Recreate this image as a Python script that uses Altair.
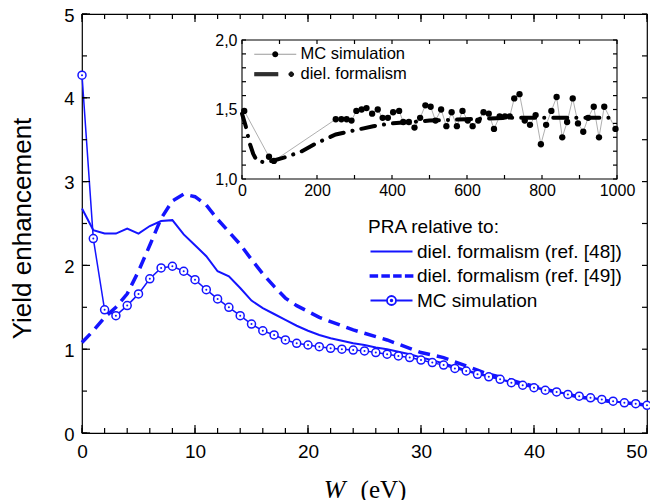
import altair as alt
import pandas as pd

# ---------------- data ----------------
W_EV = list(range(51))
REF48 = [2.68, 2.42, 2.38, 2.38, 2.44, 2.38, 2.47, 2.53, 2.54, 2.37,
         2.24, 2.11, 1.93, 1.87, 1.73, 1.58, 1.49, 1.42, 1.35, 1.28,
         1.22, 1.17, 1.13, 1.10, 1.07, 1.05, 1.02, 1.00, 0.97, 0.94,
         0.90, 0.87, 0.83, 0.79, 0.75, 0.71, 0.68, 0.64, 0.61, 0.58,
         0.55, 0.52, 0.49, 0.47, 0.44, 0.42, 0.40, 0.38, 0.36, 0.35, 0.33]
REF49 = [1.08, 1.22, 1.38, 1.50, 1.66, 1.93, 2.24, 2.56, 2.77, 2.85,
         2.82, 2.72, 2.55, 2.40, 2.25, 2.07, 1.90, 1.75, 1.61, 1.52,
         1.45, 1.38, 1.33, 1.28, 1.23, 1.19, 1.15, 1.11, 1.06, 1.01,
         0.96, 0.93, 0.90, 0.85, 0.80, 0.75, 0.70, 0.67, 0.63, 0.59,
         0.56, 0.52, 0.49, 0.46, 0.43, 0.41, 0.39, 0.37, 0.36, 0.35, 0.33]
MC_MAIN = [4.27, 2.32, 1.47, 1.40, 1.52, 1.66, 1.84, 1.97, 1.99, 1.93,
           1.83, 1.71, 1.60, 1.50, 1.40, 1.30, 1.22, 1.17, 1.11, 1.07,
           1.05, 1.03, 1.01, 1.00, 0.99, 0.98, 0.96, 0.94, 0.92, 0.90,
           0.87, 0.84, 0.81, 0.77, 0.74, 0.70, 0.67, 0.64, 0.60, 0.57,
           0.54, 0.51, 0.49, 0.46, 0.44, 0.42, 0.40, 0.38, 0.36, 0.35, 0.33]
MAIN_SERIES = ["diel. formalism (ref. [48])", "diel. formalism (ref. [49])", "MC simulation"]

INSET_MC_E = [6, 72, 85, 250, 265, 279, 292, 305, 319, 332, 347, 362, 375, 389, 403, 419,
              430, 445, 460, 475, 489, 503, 516, 531, 545, 559, 573, 588, 602, 615, 630,
              644, 658, 672, 687, 701, 714, 726, 740, 754, 768, 783, 797, 811, 825, 839,
              854, 867, 882, 896, 910, 923, 938, 952, 966, 996]
INSET_MC_Y = [1.49, 1.16, 1.13, 1.43, 1.43, 1.43, 1.42, 1.49, 1.50, 1.51, 1.47, 1.50, 1.44,
              1.44, 1.48, 1.49, 1.41, 1.41, 1.37, 1.44, 1.53, 1.52, 1.42, 1.50, 1.38, 1.48,
              1.38, 1.49, 1.42, 1.38, 1.42, 1.48, 1.47, 1.36, 1.45, 1.45, 1.45, 1.58, 1.61,
              1.42, 1.39, 1.46, 1.25, 1.39, 1.49, 1.59, 1.30, 1.41, 1.58, 1.40, 1.34, 1.44,
              1.52, 1.30, 1.52, 1.36]
INSET_DIEL_E = [0, 10, 20, 30, 40, 60, 80, 120, 160, 200, 250, 300, 350, 400, 450, 500,
                600, 700, 800, 900, 1000]
INSET_DIEL_Y = [1.47, 1.38, 1.26, 1.18, 1.13, 1.12, 1.13, 1.16, 1.20, 1.26, 1.32, 1.35,
                1.38, 1.40, 1.41, 1.42, 1.43, 1.44, 1.44, 1.44, 1.44]
INSET_SERIES = ["MC simulation", "diel. formalism"]
INSET_X_DOMAIN = [0, 1000]
INSET_Y_DOMAIN = [1.0, 2.0]

MAIN_X_DOMAIN = [0, 50]
MAIN_Y_DOMAIN = [0, 5]
MAIN_X_MAJOR = list(range(0, 51, 10))
MAIN_X_MINOR = list(range(0, 51, 2))
MAIN_Y_MAJOR = [0, 1, 2, 3, 4, 5]
MAIN_Y_MINOR = [i * 0.5 for i in range(11)]
INSET_X_TICKS = list(range(0, 1001, 100))
INSET_Y_TICKS = [round(1 + 0.1 * i, 1) for i in range(11)]

# ---------------- style ----------------
BLUE = "#1414ff"
FONT = "Liberation Sans"
SERIF = "Liberation Serif"
PLOT_W, PLOT_H = 565, 419
INSET_X_RANGE = [160, 535]
INSET_Y_RANGE = [165, 26]

# legend symbols: unit = 7 px (symbol size 196), drawn from -1 to 5 units (42 px)
MAIN_PATHS = [
    "M-1,0H5",
    "M-1,-0.107H-0.04V0.107H-1ZM0.68,-0.107H1.64V0.107H0.68ZM2.36,-0.107H3.32V0.107H2.36Z"
    "M4.04,-0.107H5V0.107H4.04Z",
    "M-1,0H1.357M2.643,0H5M2.643,0A0.643,0.643,0,1,1,1.357,0A0.643,0.643,0,1,1,2.643,0"
    "M2.12,0A0.12,0.12,0,1,1,1.88,0A0.12,0.12,0,1,1,2.12,0",
]


def ring(cx, r):
    return (f"M{cx + r:.3f},0A{r},{r},0,1,1,{cx - r:.3f},0"
            f"A{r},{r},0,1,1,{cx + r:.3f},0")


INSET_PATHS = [
    "M-1,0H5",
    "M-1,-0.214H2.43M-1,-0.071H2.43M-1,0.071H2.43M-1,0.214H2.43"
    + "".join(ring(4.29, r) for r in (0.05, 0.12, 0.19, 0.26, 0.33)),
]
INSET_DOT_PATH = "".join(ring(2.0, r) for r in (0.1, 0.22, 0.34, 0.43))
SYM = 196


def axis(**kw):
    base = dict(grid=False, domain=False, ticks=False, tickSize=0,
                labelColor="black", labelFont=FONT, labelFontSize=19,
                labelFlush=False, labelOverlap=False, title=None)
    base.update(kw)
    return alt.Axis(**base)


main_df = pd.DataFrame({"W": W_EV, "r48": REF48, "r49": REF49, "mc": MC_MAIN})
xs = alt.Scale(domain=MAIN_X_DOMAIN, nice=False, zero=False)
ys = alt.Scale(domain=MAIN_Y_DOMAIN, nice=False, zero=False)

ax_x_bot = axis(orient="bottom", values=MAIN_X_MAJOR, labelPadding=9,
                labelAlign={"condition": {"test": "datum.value == 50", "value": "right"},
                            "value": "center"},
                title="(eV)", titleFont=SERIF, titleFontSize=25, titleFontWeight="normal",
                titleColor="black", titleX=301, titleY=64, titleAlign="center",
                titleBaseline="alphabetic")
ax_x_bot_w = axis(orient="bottom", values=MAIN_X_MAJOR, labels=False,
                  title="W", titleFont=SERIF, titleFontSize=26, titleFontWeight="normal",
                  titleFontStyle="italic", titleColor="black", titleX=252, titleY=64,
                  titleAlign="center", titleBaseline="alphabetic")
ax_y_left = axis(orient="left", values=MAIN_Y_MAJOR, labelPadding=8,
                 labelOffset=1, labelFontSize=18.5,
                 title="Yield enhancement", titleFont=FONT, titleFontSize=26,
                 titleFontWeight="normal", titleColor="black", titleX=-60, titleY=214,
                 titleAlign="center", titleBaseline="middle", titleAngle=270)

L1 = alt.Chart(main_df).mark_line(color=BLUE, strokeWidth=2).encode(
    x=alt.X("W:Q", scale=xs, axis=ax_x_bot),
    y=alt.Y("r48:Q", scale=ys, axis=ax_y_left))
L2 = alt.Chart(main_df).mark_line(color=BLUE, strokeWidth=3.5, strokeDash=[12, 7]).encode(
    x=alt.X("W:Q", scale=xs, axis=ax_x_bot_w),
    y=alt.Y("r49:Q", scale=ys, axis=None))
L3 = alt.Chart(main_df).mark_line(color=BLUE, strokeWidth=1.5).encode(
    x=alt.X("W:Q", scale=xs, axis=None),
    y=alt.Y("mc:Q", scale=ys, axis=None))
L4 = alt.Chart(main_df).mark_point(shape="circle", filled=True, fill="white", stroke=BLUE,
                                   strokeWidth=1.5, size=64, opacity=1).encode(
    x=alt.X("W:Q", scale=xs, axis=None),
    y=alt.Y("mc:Q", scale=ys, axis=None))
L5 = alt.Chart(main_df).mark_point(shape="circle", filled=True, color=BLUE, size=4,
                                   opacity=1).encode(
    x=alt.X("W:Q", scale=xs, axis=None),
    y=alt.Y("mc:Q", scale=ys, axis=None))


def x_ticks(values, xscale, yscale, at, length, inward):
    """Inward tick marks along a horizontal edge, placed through the scales."""
    return alt.Chart(pd.DataFrame({"t": values})).mark_tick(
        orient="vertical", color="black", thickness=1.2, size=length, opacity=1,
        yOffset=inward * length / 2).encode(
        x=alt.X("t:Q", scale=xscale, axis=None),
        y=alt.YDatum(at, type="quantitative", scale=yscale, axis=None))


def y_ticks(values, xscale, yscale, at, length, inward):
    """Inward tick marks along a vertical edge, placed through the scales."""
    return alt.Chart(pd.DataFrame({"t": values})).mark_tick(
        orient="horizontal", color="black", thickness=1.2, size=length, opacity=1,
        xOffset=inward * length / 2).encode(
        y=alt.Y("t:Q", scale=yscale, axis=None),
        x=alt.XDatum(at, type="quantitative", scale=xscale, axis=None))


main_ticks = [
    x_ticks(MAIN_X_MAJOR, xs, ys, MAIN_Y_DOMAIN[0], 8, -1),
    x_ticks(MAIN_X_MINOR, xs, ys, MAIN_Y_DOMAIN[0], 5, -1),
    x_ticks(MAIN_X_MAJOR, xs, ys, MAIN_Y_DOMAIN[1], 8, 1),
    x_ticks(MAIN_X_MINOR, xs, ys, MAIN_Y_DOMAIN[1], 5, 1),
    y_ticks(MAIN_Y_MAJOR, xs, ys, MAIN_X_DOMAIN[0], 8, 1),
    y_ticks(MAIN_Y_MINOR, xs, ys, MAIN_X_DOMAIN[0], 5, 1),
    y_ticks(MAIN_Y_MINOR, xs, ys, MAIN_X_DOMAIN[1], 5, -1),
]

main_leg = alt.Legend(orient="none", legendX=286, legendY=204, title="PRA relative to:",
                      titleFont=FONT, titleFontSize=19, titleFontWeight="normal",
                      titleColor="black", titlePadding=5, labelFont=FONT, labelFontSize=19,
                      labelColor="black", labelOffset=30, labelLimit=400, rowPadding=4.5,
                      padding=0, symbolSize=SYM, symbolStrokeColor=BLUE,
                      symbolStrokeWidth=1.8)
LM = alt.Chart(alt.Data(values=[])).mark_point(filled=False, size=SYM, color=BLUE,
                                               opacity=1).encode(
    shape=alt.Shape("series:N", scale=alt.Scale(domain=MAIN_SERIES, range=MAIN_PATHS),
                    legend=main_leg))

main = alt.layer(L1, L2, L3, L4, L5, *main_ticks, LM).resolve_axis(
    x="independent", y="independent")

# ---------------- inset ----------------
xi = alt.Scale(domain=INSET_X_DOMAIN, range=INSET_X_RANGE, nice=False, zero=False)
yi = alt.Scale(domain=INSET_Y_DOMAIN, range=INSET_Y_RANGE, nice=False, zero=False)

frame_df = pd.DataFrame({"e0": [INSET_X_DOMAIN[0]], "e1": [INSET_X_DOMAIN[1]],
                         "v0": [INSET_Y_DOMAIN[0]], "v1": [INSET_Y_DOMAIN[1]]})
mc_df = pd.DataFrame({"e": INSET_MC_E, "v": INSET_MC_Y})
diel_df = pd.DataFrame({"e": INSET_DIEL_E, "v": INSET_DIEL_Y})

ax_ix_bot = axis(orient="bottom", values=INSET_X_TICKS, offset=-254,
                 labelPadding=3, labelFontSize=16,
                 labelExpr="datum.value % 200 == 0 ? format(datum.value, 'd') : ''")
ax_iy_left = axis(orient="left", values=INSET_Y_TICKS, offset=-160,
                  labelPadding=5, labelFontSize=16,
                  labelExpr="abs(datum.value * 2 - round(datum.value * 2)) < 0.001 ? "
                            "replace(format(datum.value, '.1f'), '.', ',') : ''")

I1 = alt.Chart(frame_df).mark_rect(fill="white", fillOpacity=0, stroke="black",
                                   strokeWidth=1.1).encode(
    x=alt.X("e0:Q", scale=xi, axis=ax_ix_bot), x2="e1:Q",
    y=alt.Y("v0:Q", scale=yi, axis=ax_iy_left), y2="v1:Q")
I2 = alt.Chart(mc_df).mark_line(color="#9a9a9a", strokeWidth=0.8).encode(
    x=alt.X("e:Q", scale=xi, axis=None),
    y=alt.Y("v:Q", scale=yi, axis=None))
I3 = alt.Chart(diel_df).mark_line(color="black", strokeWidth=4, strokeDash=[14, 9, 0.1, 9],
                                  strokeCap="round").encode(
    x=alt.X("e:Q", scale=xi, axis=None),
    y=alt.Y("v:Q", scale=yi, axis=None))
I4 = alt.Chart(mc_df).mark_circle(color="black", size=40, opacity=1).encode(
    x=alt.X("e:Q", scale=xi, axis=None),
    y=alt.Y("v:Q", scale=yi, axis=None))

inset_ticks = [
    x_ticks(INSET_X_TICKS, xi, yi, INSET_Y_DOMAIN[0], 4, -1),
    x_ticks(INSET_X_TICKS, xi, yi, INSET_Y_DOMAIN[1], 4, 1),
    y_ticks(INSET_Y_TICKS, xi, yi, INSET_X_DOMAIN[0], 4, 1),
    y_ticks(INSET_Y_TICKS, xi, yi, INSET_X_DOMAIN[1], 4, -1),
]

leg_a = alt.Legend(orient="none", legendX=171, legendY=32, title=None, labelFont=FONT,
                   labelFontSize=16.5, labelColor="black", labelOffset=31, labelLimit=400,
                   rowPadding=3, padding=0, symbolSize=SYM, symbolStrokeWidth=1)
IA = alt.Chart(alt.Data(values=[])).mark_point(filled=False, size=SYM, opacity=1).encode(
    shape=alt.Shape("s:N", scale=alt.Scale(domain=INSET_SERIES, range=INSET_PATHS),
                    legend=leg_a),
    color=alt.Color("s:N", scale=alt.Scale(domain=INSET_SERIES, range=["#9a9a9a", "black"]),
                    legend=leg_a))
leg_b = alt.Legend(orient="none", legendX=171, legendY=32, title=None, labelFont=FONT,
                   labelFontSize=16.5, labelOpacity=0, labelOffset=31, labelLimit=400,
                   rowPadding=3, padding=0, symbolType=INSET_DOT_PATH, symbolSize=SYM,
                   symbolFillColor="black", symbolStrokeColor="black", symbolStrokeWidth=1)
IB = alt.Chart(alt.Data(values=[])).mark_circle(color="black", size=SYM).encode(
    opacity=alt.Opacity("d:N", scale=alt.Scale(domain=["dot_mc", "dot_diel"], range=[1, 0]),
                        legend=leg_b))

inset = alt.layer(I1, I2, I3, I4, *inset_ticks, IA, IB).resolve_axis(
    x="independent", y="independent")

chart = alt.layer(main, inset).resolve_scale(
    x="independent", y="independent", shape="independent",
    color="independent", opacity="independent"
).properties(
    width=PLOT_W, height=PLOT_H,
    autosize=alt.AutoSizeParams(type="none"),
    padding={"left": 74, "top": 6, "right": 3, "bottom": 67},
).configure_view(stroke="black", strokeWidth=1.2)

chart.save("out.html", embed_options={"renderer": "svg", "actions": False})
